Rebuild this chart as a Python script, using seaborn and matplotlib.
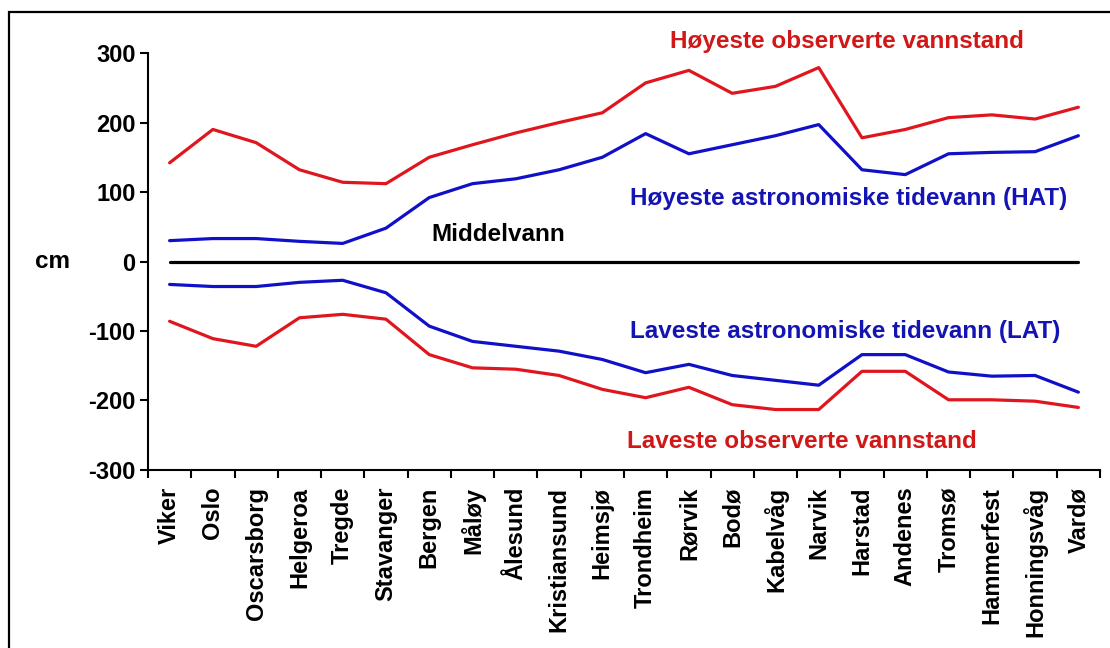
import matplotlib
matplotlib.use("Agg")
import matplotlib.pyplot as plt
from matplotlib.patches import Rectangle
from matplotlib.transforms import blended_transform_factory
import numpy as np
import pandas as pd
import seaborn as sns

# Stations along the Norwegian coast, south to north
stations = ["Viker", "Oslo", "Oscarsborg", "Helgeroa", "Tregde", "Stavanger",
            "Bergen", "Måløy", "Ålesund", "Kristiansund", "Heimsjø", "Trondheim",
            "Rørvik", "Bodø", "Kabelvåg", "Narvik", "Harstad", "Andenes",
            "Tromsø", "Hammerfest", "Honningsvåg", "Vardø"]

# Water levels in cm relative to mean sea level
hoyeste_obs = [142, 190, 171, 132, 114, 112, 150, 168, 185, 200, 214, 257,
               275, 242, 252, 279, 178, 190, 207, 211, 205, 222]
hat = [30, 33, 33, 29, 26, 48, 92, 112, 119, 132, 150, 184,
       155, 168, 181, 197, 132, 125, 155, 157, 158, 181]
middelvann = [0, 0, 0, 0, 0, 0, 0, 0, 0, 0, 0, 0,
              0, 0, 0, 0, 0, 0, 0, 0, 0, 0]
lat = [-33, -36, -36, -30, -27, -45, -93, -115, -122, -129, -141, -160,
       -148, -164, -171, -178, -134, -134, -159, -165, -164, -188]
laveste_obs = [-86, -111, -122, -81, -76, -83, -134, -153, -155, -164, -184, -196,
               -181, -206, -213, -213, -158, -158, -199, -199, -201, -210]

y_ticks = [-300, -200, -100, 0, 100, 200, 300]

series = {
    "Høyeste observerte vannstand": hoyeste_obs,
    "Høyeste astronomiske tidevann (HAT)": hat,
    "Middelvann": middelvann,
    "Laveste astronomiske tidevann (LAT)": lat,
    "Laveste observerte vannstand": laveste_obs,
}
rows = []
for name, vals in series.items():
    for i, v in enumerate(vals):
        rows.append({"pos": i, "stasjon": stations[i], "serie": name, "cm": v})
df = pd.DataFrame(rows)

RED = "#e0161e"
BLUE = "#1010c8"
palette = {
    "Høyeste observerte vannstand": RED,
    "Høyeste astronomiske tidevann (HAT)": BLUE,
    "Middelvann": "#000000",
    "Laveste astronomiske tidevann (LAT)": BLUE,
    "Laveste observerte vannstand": RED,
}

sns.set_theme(style="white")
plt.rcParams["font.family"] = ["Liberation Sans", "DejaVu Sans"]
plt.rcParams["font.weight"] = "bold"
plt.rcParams["text.color"] = "black"
plt.rcParams["xtick.color"] = "black"
plt.rcParams["ytick.color"] = "black"

fig = plt.figure(figsize=(11.10, 6.48), dpi=100)
ax = fig.add_axes([0.1333, 0.2747, 0.8577, 0.6435])

sns.lineplot(data=df, x="pos", y="cm", hue="serie", palette=palette,
             linewidth=2.3, legend=False, ax=ax)

n = len(stations)
ax.set_xlim(-0.5, n - 0.5)
ax.set_ylim(-300, 300)
ax.set_yticks(y_ticks)
ax.set_yticklabels([str(t) for t in y_ticks], fontsize=17, fontweight="bold",
                   color="black")

# Category boundaries carry the tick marks, centers carry the labels
ax.set_xticks(np.arange(-0.5, n, 1.0))
ax.set_xticklabels([])
ax.set_xticks(np.arange(n), minor=True)
ax.set_xticklabels(stations, minor=True, rotation=90, fontsize=17,
                   fontweight="bold", va="top", ha="center", color="black")
ax.tick_params(axis="x", which="major", direction="out", length=6, width=1.5,
               color="black", bottom=True)
ax.tick_params(axis="x", which="minor", length=0, pad=12, bottom=True)
ax.tick_params(axis="y", direction="out", length=6, width=1.5, color="black",
               left=True, pad=3)

for side in ["top", "right"]:
    ax.spines[side].set_visible(False)
for side in ["left", "bottom"]:
    ax.spines[side].set_color("black")
    ax.spines[side].set_linewidth(1.5)
ax.set_xlabel("")
ax.set_ylabel("")
ax.grid(False)

# Series labels
fs = 17.5
TRED = "#d01818"
TBLUE = "#1414b4"
ax.text(11.56, 316, "Høyeste observerte vannstand", color=TRED,
        fontsize=fs, fontweight="bold", va="center", ha="left", clip_on=False)
ax.text(10.64, 90, "Høyeste astronomiske tidevann (HAT)", color=TBLUE,
        fontsize=fs, fontweight="bold", va="center", ha="left")
ax.text(6.06, 39, "Middelvann", color="black",
        fontsize=fs, fontweight="bold", va="center", ha="left")
ax.text(10.64, -101, "Laveste astronomiske tidevann (LAT)", color=TBLUE,
        fontsize=fs, fontweight="bold", va="center", ha="left")
ax.text(10.57, -259, "Laveste observerte vannstand", color=TRED,
        fontsize=fs, fontweight="bold", va="center", ha="left")
ax.text(52 / 1110, 0, "cm", color="black",
        transform=blended_transform_factory(fig.transFigure, ax.transData),
        fontsize=fs, fontweight="bold", va="center", ha="center", clip_on=False)

# Frame around the chart
fig.patches.append(Rectangle((9 / 1110, -0.05), 1.2, 1 - 12 / 648 + 0.05,
                             transform=fig.transFigure, fill=False,
                             edgecolor="black", linewidth=1.6))

fig.savefig("out.png", dpi=100, facecolor="white")
